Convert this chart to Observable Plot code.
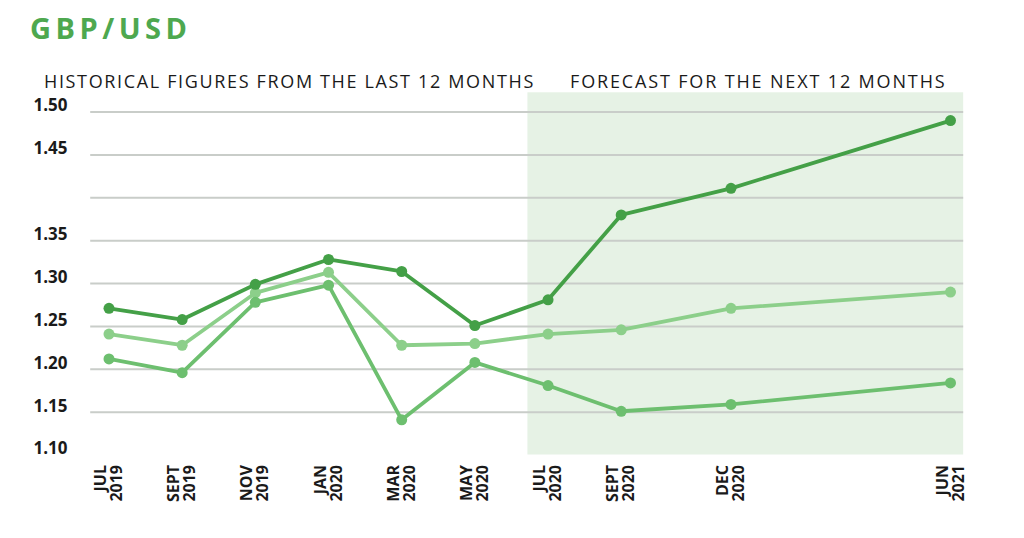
<!DOCTYPE html>
<html>
<head>
<meta charset="utf-8">
<script src="https://cdn.jsdelivr.net/npm/d3@7"></script>
<script src="https://cdn.jsdelivr.net/npm/@observablehq/plot@0.6"></script>
<style>
  html, body { margin: 0; padding: 0; background: #ffffff; }
  #header { position: relative; width: 1024px; height: 92px; font-family: "Open Sans", sans-serif; }
  #title { position: absolute; left: 30px; top: 13px; font-size: 29px; line-height: 29px; font-weight: 700; letter-spacing: 4.5px; color: #4ea84f; white-space: nowrap; }
  .sub { position: absolute; top: 72px; font-size: 18px; line-height: 18px; font-weight: 500; color: #1a1a1a; white-space: nowrap; }
  #sub1 { left: 44px; letter-spacing: 1.65px; }
  #sub2 { left: 570px; letter-spacing: 1.85px; }
  #chart svg { display: block; }
</style>
</head>
<body>
<div id="header">
  <div id="title">GBP/USD</div>
  <div class="sub" id="sub1">HISTORICAL FIGURES FROM THE LAST 12 MONTHS</div>
  <div class="sub" id="sub2">FORECAST FOR THE NEXT 12 MONTHS</div>
</div>
<div id="chart"></div>
<script>
// Month index counted from July 2019
const months = [0, 2, 4, 6, 8, 10, 12, 14, 17, 23];
const monthLabels = ["JUL\n2019", "SEPT\n2019", "NOV\n2019", "JAN\n2020", "MAR\n2020", "MAY\n2020", "JUL\n2020", "SEPT\n2020", "DEC\n2020", "JUN\n2021"];

const seriesNames = ["Average", "Low", "High"];
const averageValues = [1.241, 1.228, 1.289, 1.313, 1.228, 1.230, 1.241, 1.246, 1.271, 1.290];
const lowValues     = [1.212, 1.196, 1.278, 1.298, 1.141, 1.208, 1.181, 1.151, 1.159, 1.184];
const highValues    = [1.271, 1.258, 1.299, 1.328, 1.314, 1.251, 1.281, 1.380, 1.411, 1.490];

const yTickValues = [1.10, 1.15, 1.20, 1.25, 1.30, 1.35, 1.45, 1.50];
const gridValues  = [1.15, 1.20, 1.25, 1.30, 1.35, 1.40, 1.45, 1.50];

const forecastStart = 11.45;
const forecastEnd = 23.36;
const gridStart = -0.5;
const shadeTop = 1.5224;

const seriesColors = ["#8ccf8a", "#6dbf6f", "#44a047"];

const valuesBySeries = [averageValues, lowValues, highValues];
const data = [];
seriesNames.forEach((s, k) => {
  months.forEach((m, i) => data.push({ series: s, month: m, value: valuesBySeries[k][i] }));
});

const chart = Plot.plot({
  width: 1024,
  height: 446,
  marginTop: 19.5,
  marginBottom: 83.5,
  marginLeft: 108.5,
  marginRight: 74,
  style: { fontFamily: "'Open Sans', sans-serif", color: "#1a1a1a", background: "transparent" },
  x: { type: "linear", domain: [0, 23] },
  y: { domain: [1.10, 1.50] },
  color: { domain: seriesNames, range: seriesColors },
  marks: [
    Plot.rect([{ x1: forecastStart, x2: forecastEnd, y1: 1.10, y2: shadeTop }], {
      x1: "x1", x2: "x2", y1: "y1", y2: "y2", fill: "#e6f2e5"
    }),
    Plot.ruleY(gridValues, { x1: gridStart, x2: forecastEnd, stroke: "#c9cdc9", strokeWidth: 2 }),
    Plot.axisY(yTickValues, {
      tickSize: 0, tickPadding: 41.5, dy: -6, fontSize: 17, fontWeight: "bold",
      tickFormat: d => d.toFixed(2), label: null, fill: "#1a1a1a"
    }),
    Plot.axisX(months, {
      tickSize: 0, tickPadding: 10, tickRotate: -90, fontSize: 16, fontWeight: "bold",
      tickFormat: d => monthLabels[months.indexOf(d)], label: null, fill: "#1a1a1a"
    }),
    Plot.line(data, { x: "month", y: "value", z: "series", stroke: "series", strokeWidth: 3.8 }),
    Plot.dot(data, { x: "month", y: "value", fill: "series", r: 5.5 })
  ]
});
document.getElementById("chart").appendChild(chart);
</script>
</body>
</html>
